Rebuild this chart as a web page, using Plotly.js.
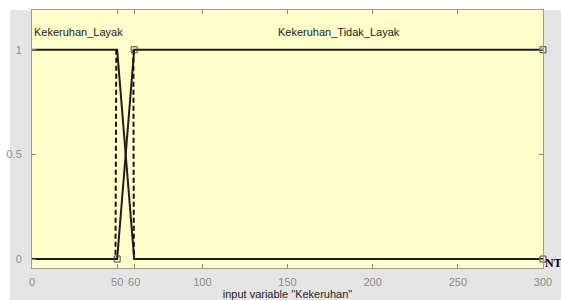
<!DOCTYPE html>
<html>
<head>
<meta charset="utf-8">
<script src="https://cdn.plot.ly/plotly-3.0.1.min.js"></script>
<style>html,body{margin:0;padding:0;background:#fff;}#chart{width:561px;height:300px;}</style>
</head>
<body>
<div id="chart"></div>
<script>
// Membership function "Kekeruhan_Layak"
const layakX = [0, 50, 60, 300];
const layakY = [1, 1, 0, 0];
// Membership function "Kekeruhan_Tidak_Layak"
const tidakX = [0, 50, 60, 300];
const tidakY = [0, 0, 1, 1];
// dashed edges
const dash1X = [49.5, 49];
const dash1Y = [1, 0];
const dash2X = [59.5, 59.8];
const dash2Y = [1, 0];
// vertex markers
const markX = [50, 60, 300, 300];
const markY = [0, 1, 1, 0];
// ticks
const xTicks = [0, 50, 60, 100, 150, 200, 250, 300];
const yTicks = [0, 0.5, 1];
const yTickText = ['0', '0.5', '1'];
const mfNames = ['Kekeruhan_Layak', 'Kekeruhan_Tidak_Layak'];
const mfLabelX = [0, 180];
const xTitle = 'input variable "Kekeruhan"';

const L = 32, R = 18, T = 10, B = 32, W = 561, H = 300;
const pw = W - L - R, ph = H - T - B;
const px = v => (v - L) / pw;
const py = v => (H - B - v) / ph;

const lineColor = '#1e1e1e';
const traces = [
  {x: layakX, y: layakY, mode: 'lines', line: {color: lineColor, width: 2}, hoverinfo: 'skip'},
  {x: tidakX, y: tidakY, mode: 'lines', line: {color: lineColor, width: 2}, hoverinfo: 'skip'},
  {x: dash1X, y: dash1Y, mode: 'lines', line: {color: '#111', width: 2, dash: '5px,3px'}, hoverinfo: 'skip'},
  {x: dash2X, y: dash2Y, mode: 'lines', line: {color: '#111', width: 2, dash: '5px,3px'}, hoverinfo: 'skip'},
  {x: markX, y: markY, mode: 'markers', marker: {symbol: 'square-open', size: 6, color: '#444', line: {width: 1}}, cliponaxis: false, hoverinfo: 'skip'}
];

const layout = {
  width: W, height: H,
  margin: {l: L, r: R, t: T, b: B},
  paper_bgcolor: '#ffffff',
  plot_bgcolor: '#ffffcc',
  showlegend: false,
  font: {family: 'Liberation Sans, Arial, sans-serif', size: 11, color: '#333'},
  xaxis: {
    range: [0, 300], tickvals: xTicks, ticktext: xTicks.map(String),
    ticks: 'inside', ticklen: 4, tickcolor: '#888', tickwidth: 1,
    showline: true, linecolor: '#9a9a9a', linewidth: 1, mirror: 'ticks',
    showgrid: false, zeroline: false,
    tickfont: {color: '#8a8a8a', size: 11, family: 'Liberation Sans, Arial, sans-serif'},
    ticklabelstandoff: 4,
    title: {text: xTitle, font: {size: 11, color: '#222'}, standoff: 7}
  },
  yaxis: {
    range: [-0.043, 1.19], tickvals: yTicks, ticktext: yTickText,
    ticks: 'inside', ticklen: 4, tickcolor: '#888', tickwidth: 1,
    showline: true, linecolor: '#9a9a9a', linewidth: 1, mirror: 'ticks',
    showgrid: false, zeroline: false,
    tickfont: {color: '#8a8a8a', size: 11, family: 'Liberation Sans, Arial, sans-serif'},
    ticklabelstandoff: 7
  },
  shapes: [
    {type: 'rect', xref: 'paper', yref: 'paper', x0: px(10), x1: px(W), y0: py(H), y1: py(10),
     fillcolor: '#e5e5e5', line: {width: 0}, layer: 'below'},
    {type: 'rect', xref: 'paper', yref: 'paper', x0: 0, x1: 1, y0: 0, y1: 1,
     fillcolor: '#ffffcc', line: {width: 0}, layer: 'below'}
  ],
  annotations: [
    {x: mfLabelX[0], y: 1.086, xref: 'x', yref: 'y', text: mfNames[0], showarrow: false,
     xanchor: 'left', yanchor: 'middle', font: {size: 11, color: '#1a1a1a'}},
    {x: mfLabelX[1], y: 1.086, xref: 'x', yref: 'y', text: mfNames[1], showarrow: false,
     xanchor: 'center', yanchor: 'middle', font: {size: 11, color: '#1a1a1a'}},
    {x: px(543), y: py(263), xref: 'paper', yref: 'paper', text: 'NT', showarrow: false,
     xanchor: 'left', yanchor: 'middle',
     font: {size: 12, color: '#000', family: 'Liberation Serif, Times New Roman, serif', weight: 'bold'}}
  ]
};

Plotly.newPlot('chart', traces, layout, {staticPlot: true, displayModeBar: false});
</script>
</body>
</html>
